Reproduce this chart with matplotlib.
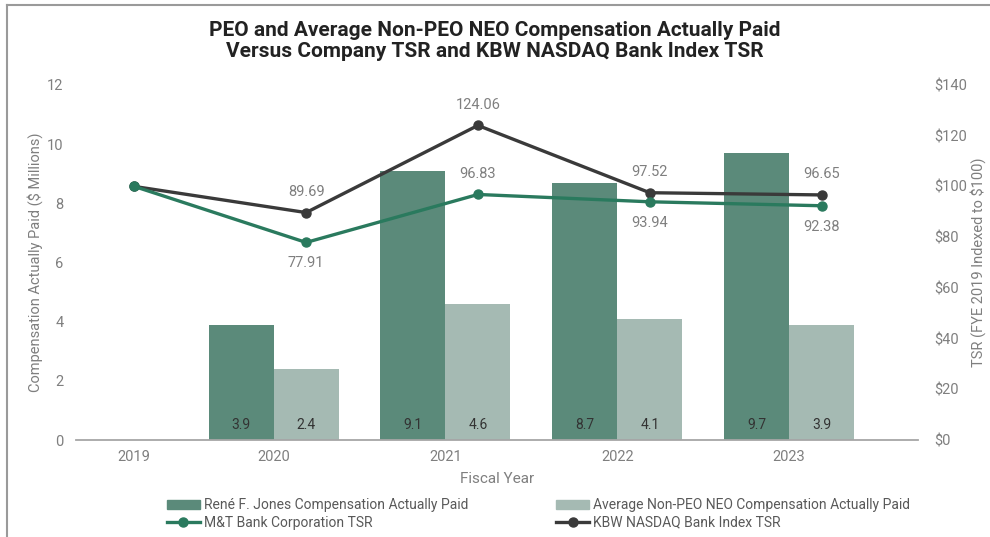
import matplotlib
matplotlib.use('Agg')
import matplotlib.pyplot as plt
from matplotlib.lines import Line2D
import numpy as np

plt.rcParams['font.family'] = ['Roboto', 'DejaVu Sans']

years = ['2019', '2020', '2021', '2022', '2023']
peo_cap = [None, 3.9, 9.1, 8.7, 9.7]
neo_cap = [None, 2.4, 4.6, 4.1, 3.9]
mtb_tsr = [100.0, 77.91, 96.83, 93.94, 92.38]
kbw_tsr = [100.0, 89.69, 124.06, 97.52, 96.65]

dark_bar = '#5b8a7a'
light_bar = '#a5bab3'
mtb_col = '#2a7a5e'
kbw_col = '#3a3a3a'
grey_txt = '#7f7f7f'


def main():
    fig = plt.figure(figsize=(9.9, 5.37), dpi=100)
    ax = fig.add_axes([76 / 990, 1 - 440 / 537, 842 / 990, 355 / 537])
    ax2 = ax.twinx()

    x = np.arange(len(years))
    w = 0.378
    off = w / 2

    # bars
    for i in range(len(years)):
        if peo_cap[i] is None:
            continue
        ax.bar(x[i] - off, peo_cap[i], w, color=dark_bar, zorder=2)
        ax.bar(x[i] + off, neo_cap[i], w, color=light_bar, zorder=2)
        ax.annotate('{:.1f}'.format(peo_cap[i]), (x[i] - off, 0), xytext=(0, 11),
                    textcoords='offset points', ha='center', va='center',
                    fontsize=10, color='#333333')
        ax.annotate('{:.1f}'.format(neo_cap[i]), (x[i] + off, 0), xytext=(0, 11),
                    textcoords='offset points', ha='center', va='center',
                    fontsize=10, color='#333333')

    # TSR lines
    xl = x + off
    ax2.plot(xl, kbw_tsr, '-o', color=kbw_col, lw=2.4, ms=6.5, zorder=4)
    ax2.plot(xl, mtb_tsr, '-o', color=mtb_col, lw=2.4, ms=6.5, zorder=5)
    for i in range(1, len(years)):
        ax2.annotate('{:.2f}'.format(kbw_tsr[i]), (xl[i], kbw_tsr[i]), xytext=(0, 15),
                     textcoords='offset points', ha='center', va='center',
                     fontsize=10.5, color=grey_txt)
        dy = 15 if i == 2 else -15
        ax2.annotate('{:.2f}'.format(mtb_tsr[i]), (xl[i], mtb_tsr[i]), xytext=(0, dy),
                     textcoords='offset points', ha='center', va='center',
                     fontsize=10.5, color=grey_txt)

    ax.set_xlim(-0.15, 4.75)
    ax.set_ylim(0, 12)
    ax2.set_ylim(0, 140)
    ax.set_yticks(np.arange(0, 13, 2))
    ax2.set_yticks(np.arange(0, 141, 20))
    ax2.set_yticklabels(['${}'.format(v) for v in range(0, 141, 20)])

    ticks = [x[0] + off] + list(x[1:])
    ax.set_xticks(ticks)
    ax.set_xticklabels(years)

    for a in (ax, ax2):
        for s in a.spines.values():
            s.set_visible(False)
        a.tick_params(length=0, labelsize=10.5, labelcolor=grey_txt)
    ax.spines['bottom'].set_visible(True)
    ax.spines['bottom'].set_color('#a6a6a6')
    ax.spines['bottom'].set_linewidth(1.3)
    ax.tick_params(axis='y', pad=9)
    ax2.tick_params(axis='y', pad=12)
    ax.tick_params(axis='x', pad=7)

    ax.set_xlabel('Fiscal Year', fontsize=11, color=grey_txt, labelpad=6)
    ax.set_ylabel('Compensation Actually Paid ($ Millions)', fontsize=10.5,
                  color=grey_txt, labelpad=3)
    ax2.set_ylabel('TSR (FYE 2019 Indexed to $100)', fontsize=10.5,
                   color=grey_txt, labelpad=2)

    fig.text(0.5, 1 - 41 / 537, 'PEO and Average Non-PEO NEO Compensation Actually Paid\n'
             'Versus Company TSR and KBW NASDAQ Bank Index TSR',
             ha='center', va='center', fontsize=15, fontweight='bold',
             color='#222222', linespacing=1.1)

    # legend filled column-wise, so order as dark, M&T, light, KBW
    handles = [plt.Rectangle((0, 0), 1, 1, color=dark_bar),
               Line2D([], [], color=mtb_col, lw=2.4, marker='o', ms=6.5),
               plt.Rectangle((0, 0), 1, 1, color=light_bar),
               Line2D([], [], color=kbw_col, lw=2.4, marker='o', ms=6.5)]
    labels = ['René F. Jones Compensation Actually Paid',
              'M&T Bank Corporation TSR',
              'Average Non-PEO NEO Compensation Actually Paid',
              'KBW NASDAQ Bank Index TSR']
    leg = fig.legend(handles, labels, ncol=2, loc='center',
                     bbox_to_anchor=(0.544, 1 - 514 / 537), frameon=False,
                     prop={'size': 10},
                     handlelength=2.4, handletextpad=0.3, columnspacing=6.3,
                     labelspacing=0.25)
    for t in leg.get_texts():
        t.set_color('#595959')

    # outer frame (left and top only)
    fig.add_artist(Line2D([7 / 990, 7 / 990], [0, 1 - 5 / 537], color='#9a9a9a',
                          lw=1.5, transform=fig.transFigure))
    fig.add_artist(Line2D([7 / 990, 1], [1 - 5 / 537, 1 - 5 / 537], color='#9a9a9a',
                          lw=1.5, transform=fig.transFigure))

    fig.savefig('out.png', dpi=100, facecolor='w')


if __name__ == '__main__':
    main()
